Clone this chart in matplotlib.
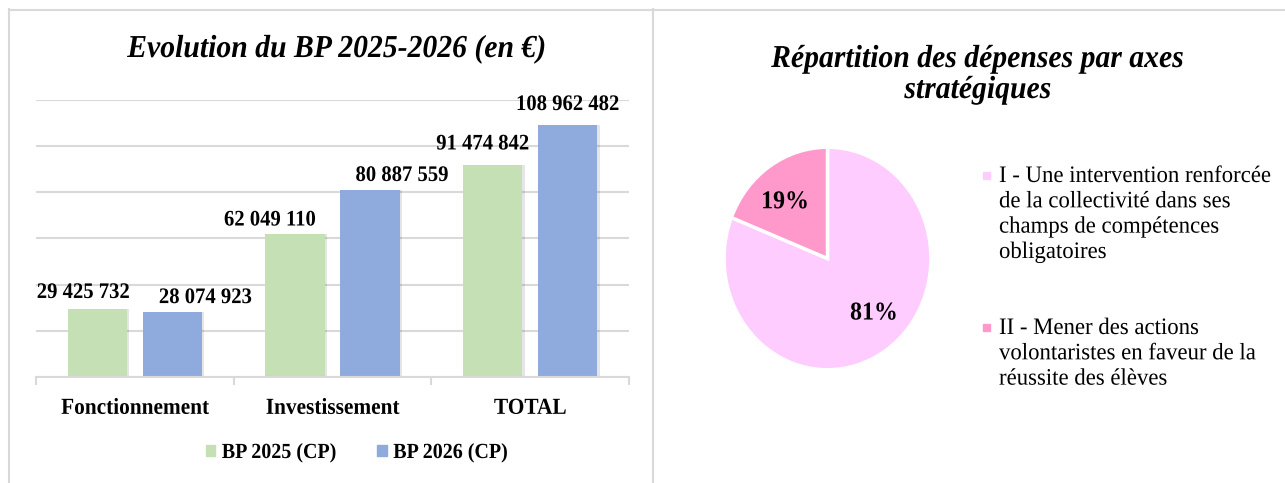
import matplotlib
matplotlib.use("Agg")
import matplotlib.pyplot as plt
from matplotlib.patches import Patch, Rectangle
from matplotlib.lines import Line2D
from matplotlib.patheffects import AbstractPathEffect
from matplotlib.transforms import Affine2D

plt.rcParams['font.family'] = ['Liberation Serif', 'DejaVu Serif']

# Data
categories = ["Fonctionnement", "Investissement", "TOTAL"]
bp2025 = [29425732, 62049110, 91474842]
bp2026 = [28074923, 80887559, 108962482]
series_names = ["BP 2025 (CP)", "BP 2026 (CP)"]

axes_labels = ["I - Une intervention renforcée\nde la collectivité dans ses\nchamps de compétences\nobligatoires",
               "II - Mener des actions\nvolontaristes en faveur de la\nréussite des élèves"]
axes_shares = [81, 19]

# Style
W, H = 1285, 483
green = '#C5E0B4'
blue = '#8FAADC'
pie_colors = ['#FFCCFF', '#FF99CC']
gray = '#D9D9D9'
SX = 0.93   # the original text is a bit condensed horizontally


class Squeeze(AbstractPathEffect):
    # narrow the glyphs around a fixed x (display coords)
    def __init__(self, sx, x0):
        super().__init__()
        self.sx, self.x0 = sx, x0

    def draw_path(self, renderer, gc, tpath, affine, rgbFace=None):
        t = affine + Affine2D().translate(-self.x0, 0).scale(self.sx, 1).translate(self.x0, 0)
        renderer.draw_path(gc, tpath, t, rgbFace)


fig = plt.figure(figsize=(W / 100, H / 100), dpi=100)
to_squeeze = []


def box(x0, y0, x1, y1):
    # pixel box (top-left origin) -> figure fraction rect
    return [x0 / W, 1 - y1 / H, (x1 - x0) / W, (y1 - y0) / H]


# panel borders
for xs, ys in [([9, 653], [9.5, 9.5]), ([654, W], [10, 10]),
               ([9, 9], [9, H]), ([653, 653], [9, H])]:
    fig.add_artist(Line2D([x / W for x in xs], [1 - y / H for y in ys],
                          color=gray, lw=1.5, transform=fig.transFigure))

# ---------- bar chart ----------
ax = fig.add_axes(box(36, 99.5, 629, 377))
x = list(range(len(categories)))
bw = 0.30
off = 0.19
x1 = [i - off for i in x]
x2 = [i + off for i in x]
# soft shadow
ax.bar([i + 0.012 for i in x1], bp2025, bw, color='black', alpha=0.10, zorder=1)
ax.bar([i + 0.012 for i in x2], bp2026, bw, color='black', alpha=0.10, zorder=1)
ax.bar(x1, bp2025, bw, color=green, zorder=2)
ax.bar(x2, bp2026, bw, color=blue, zorder=2)

ax.set_xlim(-0.5, 2.5)
ax.set_ylim(0, 120000000)
ax.set_yticks(range(0, 120000001, 20000000))
ax.yaxis.grid(True, color=gray, lw=1.5)
ax.set_axisbelow(True)
ax.tick_params(axis='y', left=False, labelleft=False)
for s in ['top', 'right', 'left']:
    ax.spines[s].set_visible(False)
ax.spines['bottom'].set_color(gray)
ax.spines['bottom'].set_linewidth(1.5)
ax.set_xticks(x)
ax.set_xticklabels(categories, fontsize=16.5, fontweight='bold')
ax.tick_params(axis='x', length=0, pad=15)
ax.set_xticks([-0.5, 0.5, 1.5, 2.5], minor=True)
ax.tick_params(axis='x', which='minor', length=6, color=gray, width=1.5)


def fmt(v):
    return f"{v:,}".replace(",", " ")


# label offsets in pixels (manually placed labels in the original)
offs1 = [(-14, 16), (-25, 13), (-10, 21)]
offs2 = [(33, 14), (32, 14), (0, 20)]
for xs, vals, offs in [(x1, bp2025, offs1), (x2, bp2026, offs2)]:
    for xi, v, (dx, dy) in zip(xs, vals, offs):
        t = ax.annotate(fmt(v), (xi, v), xytext=(dx, dy), textcoords='offset pixels',
                        ha='center', va='center', fontsize=16, fontweight='bold')
        to_squeeze.append((t, 'center', SX))

leg = fig.legend([Patch(color=green), Patch(color=blue)], series_names,
                 loc='center', bbox_to_anchor=(361 / W, 1 - 453 / H), ncol=2,
                 frameon=False, prop={'size': 15.5, 'weight': 'bold'},
                 handlelength=0.45, handleheight=0.45, handletextpad=0.3,
                 columnspacing=1.5)
for t in leg.get_texts():
    to_squeeze.append((t, 'left', SX))

t = fig.text(337 / W, 1 - 57 / H, "Evolution du BP 2025-2026 (en €)", ha='center',
             va='baseline', fontsize=23, fontweight='bold', style='italic')
to_squeeze.append((t, 'center', SX))

# ---------- pie chart ----------
t = fig.text(978 / W, 1 - 67 / H, "Répartition des dépenses par axes", ha='center',
             va='baseline', fontsize=23, fontweight='bold', style='italic')
to_squeeze.append((t, 'center', SX))
t = fig.text(978 / W, 1 - 98 / H, "stratégiques", ha='center',
             va='baseline', fontsize=23, fontweight='bold', style='italic')
to_squeeze.append((t, 'center', SX))

pax = fig.add_axes(box(722, 145, 933, 372))
wedges, _, autotexts = pax.pie(axes_shares, colors=pie_colors, startangle=90,
                               counterclock=False, radius=1,
                               autopct='%1.0f%%', pctdistance=0.68,
                               wedgeprops={'edgecolor': 'white', 'linewidth': 2.5},
                               textprops={'fontsize': 18.5, 'fontweight': 'bold'})
pax.set_aspect('auto')
pax.set_xlim(-1.02, 1.02)
pax.set_ylim(-1.02, 1.02)
autotexts[0].set_position((0.45, -0.49))
autotexts[1].set_position((-0.41, 0.51))
for t in autotexts:
    to_squeeze.append((t, 'center', SX))

ytops = [166, 318]
for lab, col, yt in zip(axes_labels, pie_colors, ytops):
    t = fig.text(999 / W, 1 - yt / H, lab, ha='left', va='top',
                 fontsize=17, linespacing=1.27)
    to_squeeze.append((t, 'left', 0.965))
    fig.add_artist(Rectangle((983 / W, 1 - (yt + 13) / H), 7 / W, 7 / H,
                             color=col, transform=fig.transFigure))

# condense text like the original
fig.canvas.draw()
renderer = fig.canvas.get_renderer()
for t in ax.get_xticklabels():
    to_squeeze.append((t, 'center', SX))
for t, anchor, sx in to_squeeze:
    bb = t.get_window_extent(renderer)
    x0 = bb.x0 if anchor == 'left' else (bb.x0 + bb.x1) / 2
    t.set_path_effects([Squeeze(sx, x0)])

fig.savefig("out.png", dpi=100)
